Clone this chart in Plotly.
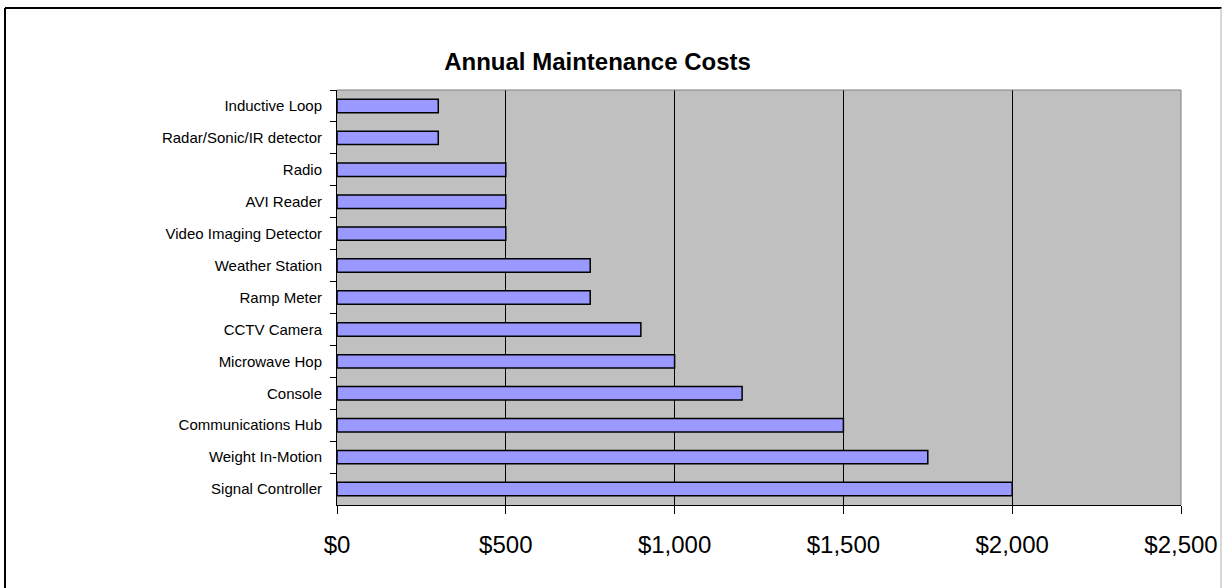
import plotly.graph_objects as go

categories = [
    "Inductive Loop",
    "Radar/Sonic/IR detector",
    "Radio",
    "AVI Reader",
    "Video Imaging Detector",
    "Weather Station",
    "Ramp Meter",
    "CCTV Camera",
    "Microwave Hop",
    "Console",
    "Communications Hub",
    "Weight In-Motion",
    "Signal Controller",
]
costs = [300, 300, 500, 500, 500, 750, 750, 900, 1000, 1200, 1500, 1750, 2000]
x_ticks = [0, 500, 1000, 1500, 2000, 2500]
x_tick_labels = ["$0", "$500", "$1,000", "$1,500", "$2,000", "$2,500"]

W, H = 1222, 588
L, R, T, B = 337, 41, 90, 83
pw, ph = W - L - R, H - T - B

def px_x(p):
    return (p - L) / pw

def px_y(p):
    return (H - B - p) / ph

fig = go.Figure(
    go.Bar(
        x=costs,
        y=categories,
        orientation="h",
        marker=dict(color="#9999FF", line=dict(color="black", width=1.5)),
        hoverinfo="x+y",
    )
)

fig.update_layout(
    width=W,
    height=H,
    margin=dict(l=L, r=R, t=T, b=B, autoexpand=False),
    paper_bgcolor="white",
    plot_bgcolor="#C0C0C0",
    bargap=0.58,
    showlegend=False,
    font=dict(family="Liberation Sans, Arial, sans-serif", color="black"),
    title=dict(
        text="<b>Annual Maintenance Costs</b>",
        x=597.5 / W,
        xref="container",
        xanchor="center",
        y=1 - 62 / H,
        yref="container",
        yanchor="middle",
        font=dict(size=24, color="black", family="Liberation Sans, Arial, sans-serif"),
    ),
    xaxis=dict(
        range=[0, 2500],
        tickvals=x_ticks,
        ticktext=x_tick_labels,
        showgrid=True,
        gridcolor="black",
        gridwidth=1,
        zeroline=False,
        showline=True,
        linecolor="black",
        linewidth=1,
        ticks="outside",
        ticklen=8,
        tickcolor="black",
        tickfont=dict(size=24, color="black"),
        ticklabelstandoff=10,
        fixedrange=True,
    ),
    yaxis=dict(
        type="category",
        autorange="reversed",
        showgrid=False,
        zeroline=False,
        showline=True,
        linecolor="black",
        linewidth=1,
        ticks="outside",
        tickson="boundaries",
        ticklen=6,
        tickcolor="black",
        tickfont=dict(size=15, color="black"),
        ticklabelstandoff=11,
        fixedrange=True,
    ),
    shapes=[
        # plot area border (top and right, gray)
        dict(type="line", xref="paper", yref="paper", x0=0, x1=1, y0=1, y1=1,
             line=dict(color="#808080", width=1)),
        dict(type="line", xref="paper", yref="paper", x0=1, x1=1, y0=0, y1=1,
             line=dict(color="#808080", width=1)),
        # chart frame
        dict(type="line", xref="paper", yref="paper", x0=px_x(5), x1=px_x(1221.5),
             y0=px_y(8), y1=px_y(8), line=dict(color="black", width=2)),
        dict(type="line", xref="paper", yref="paper", x0=px_x(5), x1=px_x(5),
             y0=px_y(8), y1=px_y(600), line=dict(color="black", width=2)),
        dict(type="line", xref="paper", yref="paper", x0=px_x(1221), x1=px_x(1221),
             y0=px_y(8), y1=px_y(600), line=dict(color="#B0B0B0", width=1)),
    ],
)

fig.write_html(
    "out.html",
    config={"displayModeBar": False},
    post_script="document.body.style.margin='0';document.body.style.overflow='hidden';",
)
